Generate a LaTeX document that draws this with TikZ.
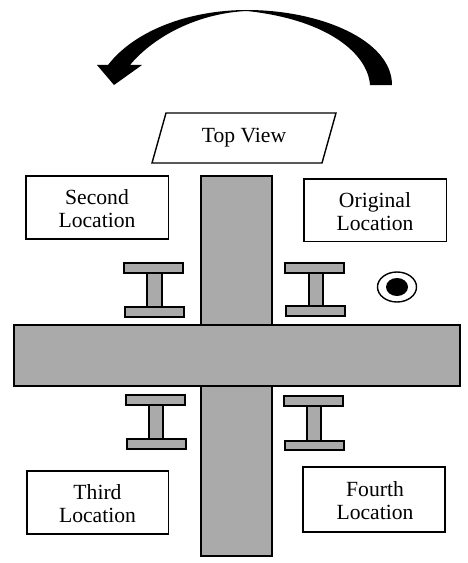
\documentclass[tikz,border=0pt]{standalone}
\usepackage{fontspec}
\setmainfont{Liberation Serif}
\usetikzlibrary{calc}
\definecolor{beamgray}{HTML}{AAAAAA}
\tikzset{
  beam/.style={draw,thick,fill=beamgray},
  labelbox/.style={draw,thick,fill=white},
  labeltext/.style={align=center,inner sep=0pt,font=\fontsize{12.3}{13}\selectfont}
}
\begin{document}
\begin{tikzpicture}[scale=2]
\useasboundingbox (0,0) rectangle (4.68,-5.63);
% column and girder
\draw[beam] (2.01,-1.76) rectangle (2.72,-5.56);
\draw[beam] (.14,-3.25) rectangle (4.60,-3.86);
% upper left section
\draw[beam] (1.47,-2.72) rectangle (1.62,-3.08);
\draw[beam] (1.24,-2.63) rectangle (1.83,-2.73);
\draw[beam] (1.25,-3.07) rectangle (1.84,-3.17);
% upper right section
\draw[beam] (3.09,-2.72) rectangle (3.23,-3.07);
\draw[beam] (2.85,-2.63) rectangle (3.44,-2.73);
\draw[beam] (2.86,-3.06) rectangle (3.45,-3.16);
% lower left section
\draw[beam] (1.49,-4.04) rectangle (1.63,-4.40);
\draw[beam] (1.26,-3.95) rectangle (1.85,-4.05);
\draw[beam] (1.27,-4.39) rectangle (1.86,-4.49);
% lower right section
\draw[beam] (3.07,-4.05) rectangle (3.21,-4.41);
\draw[beam] (2.84,-3.96) rectangle (3.43,-4.06);
\draw[beam] (2.85,-4.41) rectangle (3.44,-4.50);
% load point
\draw[thick] (3.97,-2.87) ellipse (.195 and .15);
\fill (3.97,-2.87) ellipse (.11 and .09);
% labels
\draw[labelbox] (.26,-1.76) rectangle (1.685,-2.39);
\node (second) [labeltext] at (.97,-2.09) {Second\\Location};
\draw[labelbox] (3.04,-1.79) rectangle (4.465,-2.415);
\node (original) [labeltext] at (3.75,-2.115) {Original\\Location};
\draw[labelbox] (.27,-4.71) rectangle (1.685,-5.34);
\node (third) [labeltext] at (.975,-5.04) {Third\\Location};
\draw[labelbox] (3.03,-4.67) rectangle (4.45,-5.32);
\node (fourth) [labeltext] at (3.75,-5.005) {Fourth\\Location};
\draw[labelbox] (1.52,-1.63) -- (1.66,-1.13) -- (3.36,-1.13) -- (3.22,-1.63) -- cycle;
\node (topview) [labeltext] at (2.44,-1.38) {Top View};
% rotation arrow
\fill (3.92,-.85) .. controls (3.92,-.40) and (3.20,-.10) .. (2.47,-.10)
  .. controls (1.90,-.10) and (1.35,-.30) .. (1.08,-.65)
  -- (.97,-.65) -- (1.14,-.85) -- (1.42,-.65) -- (1.30,-.65)
  .. controls (1.55,-.35) and (2.00,-.13) .. (2.47,-.11)
  .. controls (3.30,-.20) and (3.68,-.55) .. (3.70,-.85) -- cycle;
\end{tikzpicture}
\end{document}
